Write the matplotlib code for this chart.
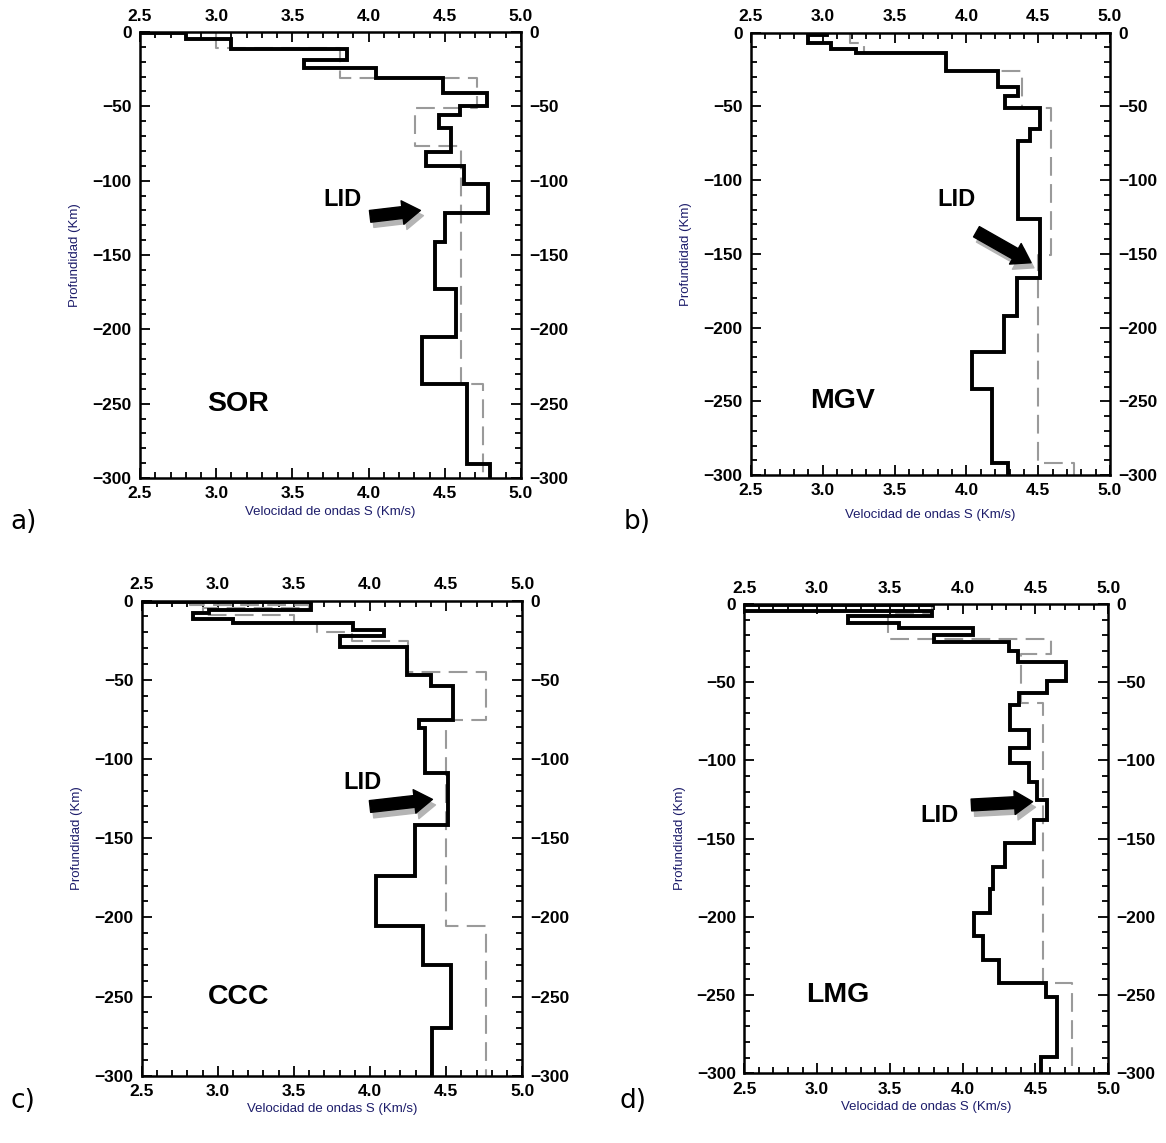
import matplotlib
matplotlib.use("Agg")
import matplotlib.pyplot as plt
from matplotlib.ticker import MultipleLocator, FormatStrFormatter
import numpy as np

plt.rcParams['font.family'] = ['Liberation Sans', 'DejaVu Sans']
plt.rcParams['font.weight'] = 'bold'

# ---- data: layer boundaries (km, positive down) and S velocities (km/s) ----
sor_z = [0, 0.4, 5, 11.6, 18.8, 24, 31, 41, 49.7, 55.8, 64.8, 80.5, 89.9, 102.4, 121.5, 141, 173, 204.9, 236.9, 290.7, 300]
sor_v = [2.3, 2.8, 3.1, 3.856, 3.576, 4.046, 4.486, 4.775, 4.6, 4.464, 4.538, 4.38, 4.626, 4.786, 4.50, 4.436, 4.573, 4.353, 4.644, 4.80]
sor_ref_z = [0, 10.8, 31, 51, 76.7, 237, 300]
sor_ref_v = [3.0, 3.81, 4.71, 4.305, 4.604, 4.753]

mgv_z = [0, 1.6, 7.2, 11.3, 14, 25.8, 36.6, 42.9, 51.3, 65.5, 73.3, 126.6, 166.6, 192.2, 216.8, 241.9, 291.7, 300]
mgv_v = [3.03, 2.9, 3.06, 3.23, 3.86, 4.22, 4.36, 4.27, 4.51, 4.44, 4.36, 4.51, 4.35, 4.26, 4.04, 4.18, 4.29]
mgv_ref_z = [0, 7.2, 14, 25.8, 51.3, 150.8, 291.7, 300]
mgv_ref_v = [3.19, 3.29, 3.86, 4.39, 4.59, 4.50, 4.75]

ccc_z = [0, 0.8, 5.9, 8, 11.8, 14.3, 18.5, 22.3, 29.4, 46.9, 53.9, 75.4, 80.6, 109, 141.7, 173.9, 205.5, 230.1, 270.1, 300]
ccc_v = [2.3, 3.61, 2.94, 2.84, 3.10, 3.885, 4.09, 3.80, 4.245, 4.40, 4.547, 4.325, 4.36, 4.514, 4.295, 4.04, 4.346, 4.535, 4.405]
ccc_ref_z = [0, 2.5, 4.5, 9.1, 14.3, 19.5, 25.8, 45.3, 75.4, 205.5, 300]
ccc_ref_v = [2.82, 3.6, 2.9, 3.5, 3.65, 3.88, 4.25, 4.76, 4.50, 4.76]

lmg_z = [0, 0.5, 4.3, 7.7, 11.9, 15.6, 19.8, 24.1, 29.8, 36.9, 49, 56.7, 64.6, 80.6, 92.3, 101.5,
         113.6, 125.3, 138.1, 152.6, 168, 182.4, 197.8, 212.3, 227.6, 242.5, 251.5, 289.4, 300]
lmg_v = [3.79, 2.3, 3.79, 3.21, 3.56, 4.07, 3.80, 4.32, 4.38, 4.71, 4.58, 4.39, 4.325, 4.455, 4.325,
         4.455, 4.51, 4.58, 4.49, 4.29, 4.21, 4.19, 4.08, 4.14, 4.25, 4.57, 4.645, 4.54]
lmg_ref_z = [0, 6, 22.6, 32, 63.5, 242.5, 300]
lmg_ref_v = [3.79, 3.49, 4.61, 4.40, 4.55, 4.75]

names = ["SOR", "MGV", "CCC", "LMG"]
letters = ["a)", "b)", "c)", "d)"]

# LID text position and arrow (tail, head) in data units
lid_txt = [(3.83, 113), (3.93, 113), (3.95, 115), (3.84, 135)]
lid_tail = [(4.01, 124), (4.07, 135), (4.00, 130), (4.06, 128.5)]
lid_head = [(4.34, 120), (4.45, 156), (4.41, 125.5), (4.48, 126.4)]

# axes rectangles (figure fraction)
boxes = [[0.1201, 0.5818, 0.3267, 0.3902],
         [0.6441, 0.5844, 0.3079, 0.3870],
         [0.1215, 0.0589, 0.3264, 0.4156],
         [0.6383, 0.0610, 0.3122, 0.4106]]
letter_pos = [(0.009, 0.543), (0.535, 0.543), (0.009, 0.037), (0.531, 0.037)]
bottom_pad = [6, 1, 6, 6]
xlabel_pad = [3, 8, 3, 3]

profiles = [(sor_z, sor_v, sor_ref_z, sor_ref_v),
            (mgv_z, mgv_v, mgv_ref_z, mgv_ref_v),
            (ccc_z, ccc_v, ccc_ref_z, ccc_ref_v),
            (lmg_z, lmg_v, lmg_ref_z, lmg_ref_v)]

navy = '#1c1c6a'


def steps(z, v):
    y = -np.repeat(np.array(z, float), 2)[1:-1]
    x = np.repeat(np.array(v, float), 2)
    return x, y


fig = plt.figure(figsize=(11.66, 11.43), dpi=100)

for i in range(4):
    ax = fig.add_axes(boxes[i])
    z, v, rz, rv = profiles[i]

    x, y = steps(rz, rv)
    ax.plot(x, y, color='#9a9a9a', lw=1.5, dashes=(9, 4))
    x, y = steps(z, v)
    ax.plot(x, y, color='black', lw=2.8, solid_joinstyle='miter', solid_capstyle='butt')

    ax.set_xlim(2.5, 5.0)
    ax.set_ylim(-300, 0)
    ax.xaxis.set_major_locator(MultipleLocator(0.5))
    ax.xaxis.set_minor_locator(MultipleLocator(0.1))
    ax.xaxis.set_major_formatter(FormatStrFormatter('%.1f'))
    ax.yaxis.set_major_locator(MultipleLocator(50))
    ax.yaxis.set_minor_locator(MultipleLocator(10))
    ax.tick_params(which='both', direction='in', top=True, right=True,
                   labeltop=True, labelright=True, width=1.3)
    ax.tick_params(which='major', length=7, labelsize=12.5, pad=6)
    ax.tick_params(which='minor', length=4)
    ax.tick_params(axis='x', which='major', bottom=True, pad=bottom_pad[i])
    ax.tick_params(axis='x', which='major', top=True, labeltop=True, pad=6)
    for sp in ax.spines.values():
        sp.set_linewidth(1.8)

    ax.set_xlabel('Velocidad de ondas S (Km/s)', fontsize=9.5, color=navy, labelpad=xlabel_pad[i])
    ax.set_ylabel('Profundidad (Km)', fontsize=9.5, color=navy, labelpad=8)

    ax.text(3.14, -250, names[i], fontsize=20.5, ha='center', va='center')
    ax.text(lid_txt[i][0], -lid_txt[i][1], 'LID', fontsize=17, ha='center', va='center')

    tx, tz = lid_tail[i]
    hx, hz = lid_head[i]
    style = 'simple,head_length=1.3,head_width=1.7,tail_width=0.85'
    ax.annotate('', xy=(hx + 0.02, -hz - 3.5), xytext=(tx + 0.02, -tz - 3.5),
                arrowprops=dict(arrowstyle=style, color='#b4b4b4', mutation_scale=10,
                                shrinkA=0, shrinkB=0))
    ax.annotate('', xy=(hx, -hz), xytext=(tx, -tz),
                arrowprops=dict(arrowstyle=style, color='black', mutation_scale=10,
                                shrinkA=0, shrinkB=0))

    fig.text(letter_pos[i][0], letter_pos[i][1], letters[i], fontsize=19,
             fontweight='normal', va='center', family=['DejaVu Sans'])

fig.savefig('out.png', dpi=100)
